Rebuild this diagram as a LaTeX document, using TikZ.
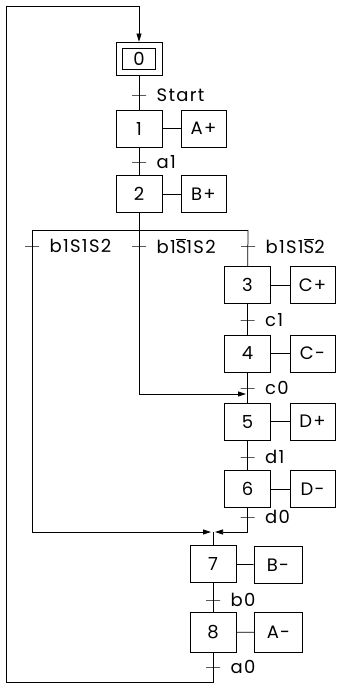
\documentclass[tikz,border=0pt]{standalone}
\usepackage{fontspec}
\setmainfont[LetterSpace=7]{Poppins}
\usetikzlibrary{arrows.meta}
\newcommand{\nS}{$\overline{\mbox{S}}$}

\begin{document}
\begin{tikzpicture}[x=1pt, y=-1pt, line width=0.75pt,
  font=\fontsize{18}{20}\selectfont,
  stp/.style={draw, minimum width=46pt, minimum height=37pt, inner sep=0pt},
  act/.style={stp, minimum width=45pt},
  tr/.style={draw, minimum width=14pt, minimum height=0pt, inner sep=0pt,
             outer sep=0pt},
  lbl/.style={label distance=7pt},
  arr/.style={-{Triangle[length=8pt, width=5pt]}}]
\useasboundingbox (0,0) rectangle (337,684);

% etapes du tronc commun
\node[stp, minimum height=33pt] (s0) at (139,58.5) {};
\node[draw, minimum width=33pt, minimum height=21pt, inner sep=0pt] (s0i) at (s0) {0};
\node[stp] (s1) at (139,128.5) {1};
\node[stp] (s2) at (139,194) {2};
\node[act] (aA) at (203.5,128.5) {A+};
\node[act] (aB) at (203.5,194) {B+};

% branche de droite
\node[stp] (s3) at (247.5,285) {3};
\node[stp] (s4) at (247.5,353.5) {4};
\node[stp] (s5) at (247.5,421.5) {5};
\node[stp] (s6) at (247.5,489) {6};
\node[act] (aC) at (312.5,285) {C+};
\node[act] (aCm) at (312.5,353.5) {C-};
\node[act] (aD) at (312.5,421.5) {D+};
\node[act] (aDm) at (312.5,489) {D-};

% fin de cycle
\node[stp] (s7) at (213,564) {7};
\node[stp, minimum height=40pt] (s8) at (213,632.5) {8};
\node[act, minimum width=48pt] (aBm) at (278,565) {B-};
\node[act, minimum width=48pt, minimum height=40pt] (aAm) at (278.5,632) {A-};

% points de liaison
\coordinate (div)  at (139,230);
\coordinate (divL) at (32,230);
\coordinate (divR) at (248,230);
\coordinate (j5)   at (246,394);
\coordinate (convL) at (211,532);
\coordinate (convR) at (215,532);
\coordinate (conv) at (213,532);
\coordinate (lpB)  at (6,682);
\coordinate (lpT)  at (6,6);

% liaisons
\draw (s0) -- (s1);
\draw (s1) -- (s2);
\draw (s2) -- (div);
\draw (divL) -- (divR);
\draw (divR) -- (s3);
\draw (s3) -- (s4);
\draw (s4) -- (s5);
\draw (s5) -- (s6);
\draw[arr] (div) |- (j5);
\draw[arr] (divL) |- (convL);
\draw[arr] (s6) |- (convR);
\draw (conv) -- (s7);
\draw (s7) -- (s8);
\draw[arr] (s8) |- (lpB) -- (lpT) -| (s0);
\foreach \s/\a in {s1/aA, s2/aB, s3/aC, s4/aCm, s5/aD, s6/aDm, s7/aBm, s8/aAm}
  \draw (\s) -- (\a);

% transitions
\node[tr, label={[lbl]right:Start}] (t0) at (139,95) {};
\node[tr, label={[lbl]right:a1}] (t1) at (139,162) {};
\node[tr, label={[lbl]right:b1S1S2}] (tL) at (32,246) {};
\node[tr, label={[lbl]right:b1\nS1S2}] (tM) at (139,246) {};
\node[tr, label={[lbl]right:b1S1\nS2}] (tR) at (248,246) {};
\node[tr, label={[lbl]right:c1}] (t3) at (247.5,320) {};
\node[tr, label={[lbl]right:c0}] (t4) at (247.5,388) {};
\node[tr, label={[lbl]right:d1}] (t5) at (247.5,457) {};
\node[tr, label={[lbl]right:d0}] (t6) at (247.5,517) {};
\node[tr, label={[lbl]right:b0}] (t7) at (213,600) {};
\node[tr, label={[lbl]right:a0}] (t8) at (213,667) {};
\end{tikzpicture}
\end{document}
